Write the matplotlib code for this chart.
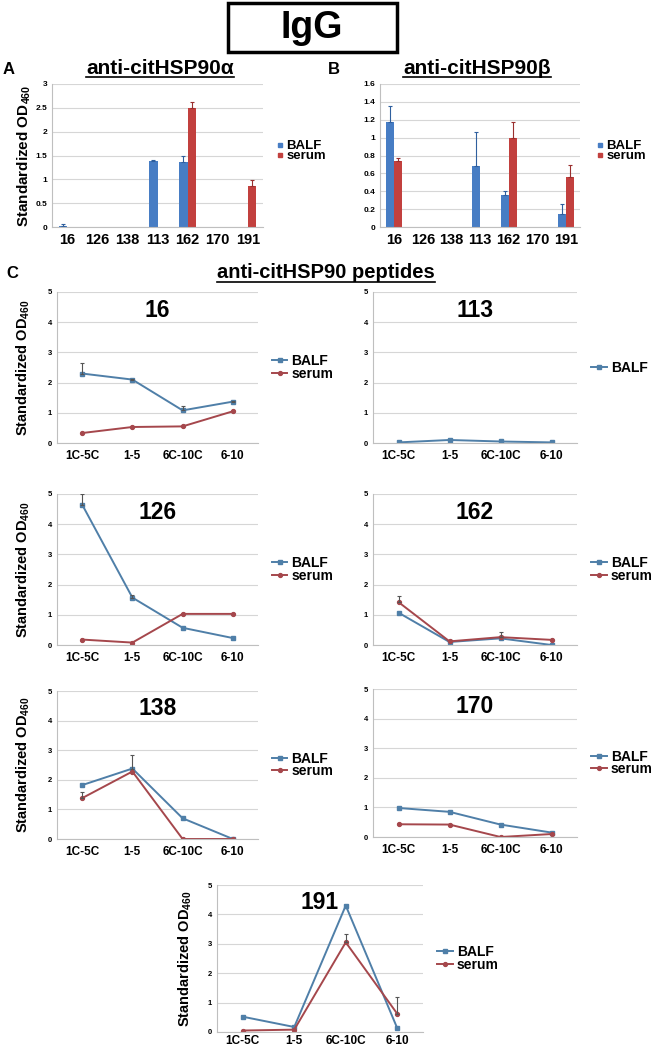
import numpy as np
import matplotlib
matplotlib.use('Agg')
import matplotlib.pyplot as plt
from matplotlib.lines import Line2D
from matplotlib.patches import Rectangle

plt.rcParams['font.family'] = ['Liberation Sans', 'DejaVu Sans']
plt.rcParams['mathtext.fontset'] = 'custom'
plt.rcParams['mathtext.rm'] = 'Liberation Sans'
plt.rcParams['mathtext.bf'] = 'Liberation Sans:bold'

# ---- data ----
peptides = ['16', '126', '138', '113', '162', '170', '191']
alpha_balf = [0.02, 0, 0, 1.38, 1.37, 0, 0]
alpha_balf_err = [0.05, 0, 0, 0.03, 0.12, 0, 0]
alpha_serum = [0, 0, 0, 0, 2.5, 0, 0.87]
alpha_serum_err = [0, 0, 0, 0, 0.13, 0, 0.12]
beta_balf = [1.18, 0, 0, 0.68, 0.36, 0, 0.14]
beta_balf_err = [0.17, 0, 0, 0.38, 0.04, 0, 0.12]
beta_serum = [0.74, 0, 0, 0, 1.0, 0, 0.56]
beta_serum_err = [0.03, 0, 0, 0, 0.17, 0, 0.13]

fractions = ['1C-5C', '1-5', '6C-10C', '6-10']
balf_16 = [2.3, 2.1, 1.08, 1.37]
balf_16_err = [0.35, 0.02, 0.15, 0.03]
serum_16 = [0.33, 0.53, 0.55, 1.05]
balf_113 = [0.02, 0.1, 0.05, 0.02]
balf_126 = [4.65, 1.57, 0.57, 0.23]
balf_126_err = [0.35, 0.08, 0, 0]
serum_126 = [0.18, 0.08, 1.03, 1.03]
balf_162 = [1.07, 0.1, 0.22, 0.0]
serum_162 = [1.42, 0.12, 0.26, 0.17]
serum_162_err = [0.2, 0, 0.18, 0]
balf_138 = [1.82, 2.38, 0.7, 0.0]
balf_138_err = [0, 0.45, 0, 0]
serum_138 = [1.38, 2.28, 0.0, 0.0]
serum_138_err = [0.22, 0, 0, 0]
balf_170 = [0.98, 0.85, 0.42, 0.15]
serum_170 = [0.43, 0.42, 0.0, 0.1]
balf_191 = [0.52, 0.17, 4.3, 0.13]
serum_191 = [0.05, 0.08, 3.05, 0.62]
serum_191_err = [0, 0, 0.3, 0.58]

BALF_BAR = '#477DC4'
SERUM_BAR = '#C2403E'
BALF_LINE = '#4F7FA8'
SERUM_LINE = '#A5474C'
YLABEL = r'Standardized OD$_{\mathbf{460}}$'

W, H = 665, 1050
fig = plt.figure(figsize=(W / 100, H / 100), dpi=100)


def add_ax(l, t, r, b):
    return fig.add_axes([l / W, 1 - b / H, (r - l) / W, (b - t) / H])


def style(ax):
    for s in ['top', 'right']:
        ax.spines[s].set_visible(False)
    for s in ['left', 'bottom']:
        ax.spines[s].set_color('#BFBFBF')
        ax.spines[s].set_linewidth(0.8)
    ax.grid(axis='y', color='#D6D6D6', lw=0.8)
    ax.set_axisbelow(True)
    ax.tick_params(axis='both', length=0)


def errbars(ax, x, y, err, color):
    x = np.asarray(x, float)
    y = np.asarray(y, float)
    err = np.asarray(err, float)
    m = err > 0
    if m.any():
        ax.errorbar(x[m], y[m], yerr=[np.zeros(m.sum()), err[m]], fmt='none',
                    ecolor=color, elinewidth=0.8, capsize=1.5, capthick=0.8)


def bar_panel(ax, balf, balf_err, serum, serum_err, ymax, yticks, ylabels, leg_dx):
    style(ax)
    x = np.arange(len(peptides))
    w = 0.28
    ax.bar(x - w / 2, balf, w, color=BALF_BAR)
    ax.bar(x + w / 2, serum, w, color=SERUM_BAR)
    errbars(ax, x - w / 2, balf, balf_err, '#2F5F9E')
    errbars(ax, x + w / 2, serum, serum_err, '#9A2F2E')
    ax.set_xlim(-0.5, len(peptides) - 0.5)
    ax.set_ylim(0, ymax)
    ax.set_xticks(x, peptides, fontsize=10.5, fontweight='bold')
    ax.set_yticks(yticks, ylabels, fontsize=6, fontweight='bold')
    ax.tick_params(axis='x', pad=4)
    handles = [Line2D([], [], marker='s', ls='', color=BALF_BAR, markersize=3.5),
               Line2D([], [], marker='s', ls='', color=SERUM_BAR, markersize=3.5)]
    ax.legend(handles, ['BALF', 'serum'], loc='center left', bbox_to_anchor=(1 + leg_dx, 0.53),
              frameon=False, prop={'size': 9.5, 'weight': 'bold'}, handletextpad=0.2,
              labelspacing=-0.15, borderpad=0, borderaxespad=0, handlelength=0.6)


def line_panel(ax, name, balf, balf_err, serum, serum_err, ylabel, lx, xpad=5):
    style(ax)
    x = np.arange(len(fractions))
    handles, labels = [], []
    h, = ax.plot(x, balf, color=BALF_LINE, marker='s', ms=3, lw=1.4)
    handles.append(h)
    labels.append('BALF')
    if balf_err is not None:
        errbars(ax, x, balf, balf_err, '#555555')
    if serum is not None:
        h, = ax.plot(x, serum, color=SERUM_LINE, marker='o', ms=2.8, lw=1.4)
        handles.append(h)
        labels.append('serum')
        if serum_err is not None:
            errbars(ax, x, serum, serum_err, '#555555')
    ax.set_xlim(-0.5, len(fractions) - 0.5)
    ax.set_ylim(0, 5)
    ax.set_xticks(x, fractions, fontsize=8.5, fontweight='bold')
    ax.set_yticks(range(6), [str(v) for v in range(6)], fontsize=5.5, fontweight='bold')
    ax.tick_params(axis='x', pad=xpad)
    ax.text(0.5, 0.88, name, transform=ax.transAxes, ha='center', va='center',
            fontsize=16.5, fontweight='bold')
    if ylabel:
        ax.set_ylabel(YLABEL, fontsize=10.5, fontweight='bold', va='center')
        ax.yaxis.set_label_coords(lx, 0.5)
    ax.legend(handles, labels, loc='center left', bbox_to_anchor=(1.07, 0.5),
              frameon=False, prop={'size': 10, 'weight': 'bold'}, handletextpad=0.3,
              labelspacing=-0.1, borderpad=0, borderaxespad=0, handlelength=1.1)


# ---- bar panels ----
axA = add_ax(52, 84, 263, 227)
bar_panel(axA, alpha_balf, alpha_balf_err, alpha_serum, alpha_serum_err, 3,
          [0, 0.5, 1, 1.5, 2, 2.5, 3], ['0', '0.5', '1', '1.5', '2', '2.5', '3'], 0.06)
axA.set_ylabel(YLABEL, fontsize=11, fontweight='bold', va='center')
axA.yaxis.set_label_coords(-0.13, 0.5)

axB = add_ax(380, 84, 580, 227)
bar_panel(axB, beta_balf, beta_balf_err, beta_serum, beta_serum_err, 1.6,
          [0, 0.2, 0.4, 0.6, 0.8, 1, 1.2, 1.4, 1.6],
          ['0', '0.2', '0.4', '0.6', '0.8', '1', '1.2', '1.4', '1.6'], 0.08)

# ---- line panels ----
line_panel(add_ax(57, 292, 258, 443), '16', balf_16, balf_16_err, serum_16, None, True, -0.17)
line_panel(add_ax(373, 292, 577, 443), '113', balf_113, None, None, None, False, 0)
line_panel(add_ax(57, 494, 258, 645), '126', balf_126, balf_126_err, serum_126, None, True, -0.17)
line_panel(add_ax(373, 494, 577, 645), '162', balf_162, None, serum_162, serum_162_err, False, 0)
line_panel(add_ax(57, 691, 258, 839), '138', balf_138, balf_138_err, serum_138, serum_138_err, True, -0.17)
line_panel(add_ax(373, 689, 577, 837), '170', balf_170, None, serum_170, None, False, 0)
line_panel(add_ax(217, 885, 423, 1032), '191', balf_191, None, serum_191, serum_191_err, True, -0.155,
           xpad=2)

# ---- headings ----
fig.add_artist(Rectangle((228 / W, 1 - 52 / H), 169 / W, 49 / H, transform=fig.transFigure,
                         fill=False, lw=2.5, ec='black'))
fig.text(312 / W, 1 - 28 / H, 'IgG', ha='center', va='center', fontsize=27, fontweight='bold')

fig.text(9 / W, 1 - 70 / H, 'A', ha='center', va='center', fontsize=12, fontweight='bold')
fig.text(334 / W, 1 - 70 / H, 'B', ha='center', va='center', fontsize=12, fontweight='bold')
fig.text(12 / W, 1 - 273 / H, 'C', ha='center', va='center', fontsize=12, fontweight='bold')

titles = [
    fig.text(160 / W, 1 - 68 / H, 'anti-citHSP90\u03b1', ha='center', va='center',
             fontsize=15, fontweight='bold'),
    fig.text(477 / W, 1 - 68 / H, 'anti-citHSP90\u03b2', ha='center', va='center',
             fontsize=15, fontweight='bold'),
    fig.text(326 / W, 1 - 273 / H, 'anti-citHSP90 peptides', ha='center', va='center',
             fontsize=14.5, fontweight='bold'),
]
fig.canvas.draw()
renderer = fig.canvas.get_renderer()
for t in titles:
    bb = t.get_window_extent(renderer=renderer)
    y = (bb.y0 + 1) / H
    fig.add_artist(Line2D([bb.x0 / W, bb.x1 / W], [y, y], color='black', lw=1.2,
                          transform=fig.transFigure))

fig.savefig('out.png', dpi=100)
